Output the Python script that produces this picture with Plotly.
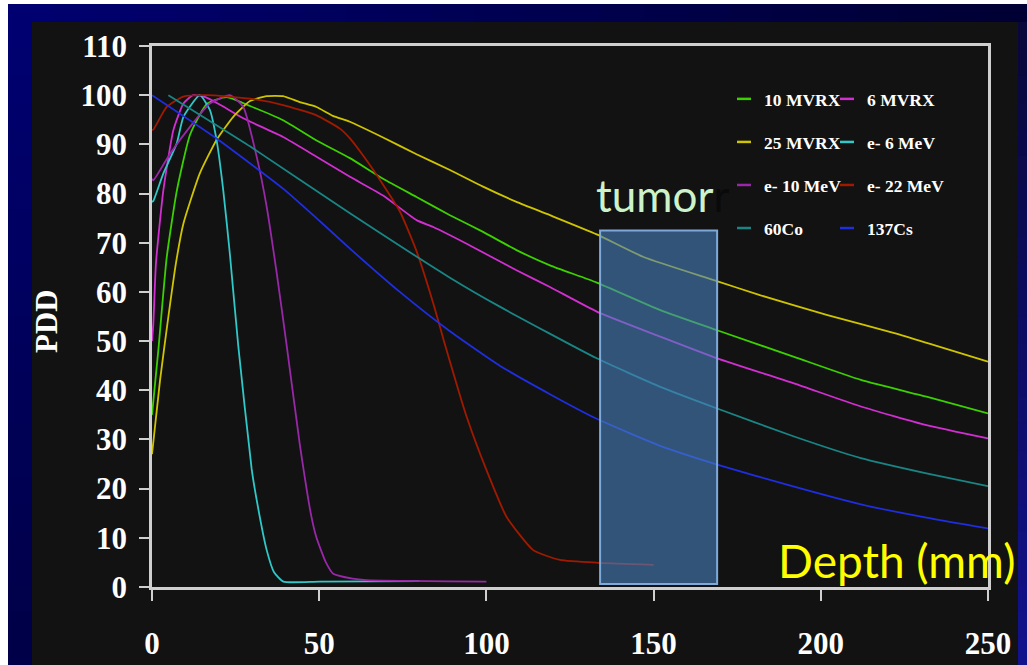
import plotly.graph_objects as go

# ---------------- data ----------------
series_names = ["10 MVRX", "6 MVRX", "25 MVRX", "e- 6 MeV",
                "e- 10 MeV", "e- 22 MeV", "60Co", "137Cs"]

mv10_depth = [0, 1.9, 4.4, 7.4, 11.4, 16.4, 22.3, 29.3, 39.2, 49.2, 59.2, 69.1, 79.1,
              89.1, 99, 109, 119, 133, 152, 169, 192, 212, 231.6, 250]
mv10_pdd = [35, 48.2, 67, 80.5, 92, 98.2, 99.6, 97.8, 94.9, 90.8, 87.2, 83, 79.3,
            75.6, 72.2, 68.5, 65.4, 61.9, 56.3, 52.2, 46.8, 42.1, 38.7, 35.3]

mv6_depth = [0, 0.4, 1.2, 3.4, 6.4, 9.4, 12.3, 16, 20, 27.3, 39.2, 49.2, 59.2, 69.1,
             79.1, 84.1, 94.1, 109, 119, 133, 152, 169, 192, 212, 231.6, 250]
mv6_pdd = [50, 53.6, 66, 80.7, 92.9, 98.3, 100, 99.6, 98.2, 95.3, 91.5, 87.5, 83.4, 79.6,
           74.6, 73.2, 69.8, 64.4, 61, 56, 50.9, 46.5, 41.4, 36.7, 32.9, 30.2]

mv25_depth = [0, 2.4, 4.9, 7.2, 9.4, 14.3, 19.3, 24.3, 29.3, 34.3, 39.2, 44.2, 49.2,
              54.1, 59.2, 69.1, 79.1, 89.1, 99, 109, 119, 133, 147, 168, 182, 202, 222, 250]
mv25_pdd = [27, 42, 55, 66, 73.9, 84.1, 90.9, 95.6, 98.8, 99.8, 99.8, 98.6, 97.6,
            95.8, 94.6, 91.4, 88, 84.8, 81.4, 78.3, 75.6, 71.7, 67.1, 62.4, 59.3, 55.3, 51.6, 45.8]

e6_depth = [0, 0.4, 3.4, 7.4, 9.4, 14.3, 17.3, 19.3, 21.3, 23.3, 25.8, 29.8, 31.3,
            34.3, 36.5, 39.3, 50, 80]
e6_pdd = [78.3, 78.5, 84.1, 90.2, 95.6, 100, 97, 90.9, 80.7, 67.6, 49, 24, 17.7,
          7.5, 3, 1.1, 1.1, 1.2]

e10_depth = [0, 0.4, 5.4, 11.4, 17.3, 23.3, 27.3, 31.3, 34.3, 37.3, 40.3, 44.2, 47.7,
             49.2, 52, 54.2, 60, 64.1, 100]
e10_pdd = [83, 82.7, 88.1, 93.6, 98.3, 100, 97.6, 87.5, 77.3, 63.8, 49, 29, 14.2,
           10, 5, 2.7, 1.7, 1.4, 1.1]

e22_depth = [0, 0.4, 4.4, 9.4, 16.3, 29.3, 39.2, 49.2, 56.2, 59.2, 64.1, 69.1, 74.1,
             79.1, 84.1, 87.1, 94.1, 100, 106, 114, 122, 134, 150]
e22_pdd = [92.9, 93, 97.6, 99.7, 100, 99.3, 98, 95.9, 93.2, 91.2, 86.8, 81.8, 76.4,
           68.3, 57.7, 50.5, 34.6, 23.8, 14.3, 7.5, 5.5, 4.9, 4.5]

co60_depth = [4.9, 29.3, 59.2, 89.1, 104, 133, 152, 169, 192, 212, 231.6, 250]
co60_pdd = [100, 89.6, 76, 62.9, 57, 46.5, 40.7, 36.3, 30.6, 26.2, 23.1, 20.5]

cs137_depth = [0, 19.3, 39.2, 49.2, 59.2, 74.1, 89.1, 104, 119, 133, 152, 169, 192, 212, 231.6, 250]
cs137_pdd = [100, 91.2, 81, 75, 68.8, 60, 52, 45, 39.2, 34.2, 28.7, 24.9, 20.4, 16.8, 14.1, 11.9]

x_ticks = [0, 50, 100, 150, 200, 250]
y_ticks = [0, 10, 20, 30, 40, 50, 60, 70, 80, 90, 100, 110]

tumor_depth = [134, 169]
tumor_pdd = [0.6, 72.5]

# ---------------- styling ----------------
depths = [mv10_depth, mv6_depth, mv25_depth, e6_depth, e10_depth, e22_depth, co60_depth, cs137_depth]
pdds = [mv10_pdd, mv6_pdd, mv25_pdd, e6_pdd, e10_pdd, e22_pdd, co60_pdd, cs137_pdd]
colors = ["#3cd000", "#d22ed2", "#cfc400", "#30c8c8", "#9828a8", "#a01a00", "#1a8585", "#1e2ee0"]
legend_ids = ["legend", "legend2", "legend", "legend2", "legend", "legend2", "legend", "legend2"]

W, H = 1027, 665
ML, MR, MT, MB = 152, 39, 46, 78
PW, PH = W - ML - MR, H - MT - MB


def pxx(px):
    return (px - ML) / PW


def pxy(py):
    return (H - MB - py) / PH


fig = go.Figure()

for name, xs, ys, c, lg in zip(series_names, depths, pdds, colors, legend_ids):
    fig.add_trace(go.Scatter(x=xs, y=ys, mode="lines", name=name, legendgroup=name,
                             showlegend=False,
                             line=dict(color=c, width=1.8, shape="spline", smoothing=0.5)))
    fig.add_trace(go.Scatter(x=[None], y=[None], mode="markers", name=name, legendgroup=name,
                             legend=lg, showlegend=True,
                             marker=dict(symbol="line-ew", size=10,
                                         line=dict(color=c, width=2.5))))

shapes = []
# slide background (blue frame with gradient, white edge)
shapes.append(dict(type="rect", xref="paper", yref="paper", layer="below",
                   x0=pxx(8), x1=pxx(W), y0=pxy(4), y1=pxy(H),
                   fillcolor="#00005c", line=dict(width=0)))
N = 24
for i in range(N):
    t = i / (N - 1)
    b = int(112 - 60 * t)
    shapes.append(dict(type="rect", xref="paper", yref="paper", layer="below",
                       x0=pxx(8 + (W - 8) * i / N), x1=pxx(8 + (W - 8) * (i + 1) / N + 1),
                       y0=pxy(22), y1=pxy(4),
                       fillcolor="rgb(0,0,%d)" % b, line=dict(width=0)))
for i in range(N):
    t = i / (N - 1)
    y_top = 22 + (H - 22) * i / N
    y_bot = 22 + (H - 22) * (i + 1) / N + 1
    bl = int(112 - 40 * t)
    shapes.append(dict(type="rect", xref="paper", yref="paper", layer="below",
                       x0=pxx(8), x1=pxx(32), y0=pxy(y_bot), y1=pxy(y_top),
                       fillcolor="rgb(0,0,%d)" % bl, line=dict(width=0)))
    rv = int(8 + 10 * t)
    br = int(60 + 80 * t)
    shapes.append(dict(type="rect", xref="paper", yref="paper", layer="below",
                       x0=pxx(1018), x1=pxx(W), y0=pxy(y_bot), y1=pxy(y_top),
                       fillcolor="rgb(%d,%d,%d)" % (rv, rv, br), line=dict(width=0)))
# black chart panel
shapes.append(dict(type="rect", xref="paper", yref="paper", layer="below",
                   x0=pxx(32), x1=pxx(1018), y0=pxy(H), y1=pxy(22),
                   fillcolor="#121212", line=dict(width=0)))
# tumor region
shapes.append(dict(type="rect", xref="x", yref="y", layer="above",
                   x0=tumor_depth[0], x1=tumor_depth[1], y0=tumor_pdd[0], y1=tumor_pdd[1],
                   fillcolor="rgba(72,128,190,0.6)", line=dict(color="#7eaadb", width=2)))

tick_font = dict(family="Liberation Serif", size=31, color="white", weight="bold")
legend_font = dict(family="Liberation Serif", size=17.5, color="white", weight="bold")

fig.update_layout(
    width=W, height=H, autosize=False,
    margin=dict(l=ML, r=MR, t=MT, b=MB, pad=0),
    paper_bgcolor="white", plot_bgcolor="#121212",
    shapes=shapes,
    xaxis=dict(range=[0, 250], tickvals=x_ticks, showgrid=False, zeroline=False,
               automargin=False,
               showline=True, linecolor="#cfcfcf", linewidth=2.5, mirror=True,
               ticks="outside", ticklen=11, tickwidth=2, tickcolor="#cfcfcf",
               tickfont=tick_font, ticklabelstandoff=16),
    yaxis=dict(range=[0, 110], tickvals=y_ticks, showgrid=False, zeroline=False,
               automargin=False,
               showline=True, linecolor="#cfcfcf", linewidth=2.5, mirror=True,
               ticks="outside", ticklen=10, tickwidth=2, tickcolor="#cfcfcf",
               tickfont=tick_font, ticklabelstandoff=6),
    legend=dict(x=pxx(724), y=pxy(81), xanchor="left", yanchor="top",
                bgcolor="rgba(0,0,0,0)", tracegroupgap=17.3, itemwidth=30,
                font=legend_font),
    legend2=dict(x=pxx(827), y=pxy(81), xanchor="left", yanchor="top",
                 bgcolor="rgba(0,0,0,0)", tracegroupgap=17.3, itemwidth=30,
                 font=legend_font),
    annotations=[
        dict(text="PDD", xref="paper", yref="paper", x=pxx(46), y=pxy(321),
             xanchor="center", yanchor="middle", textangle=-90, showarrow=False,
             font=dict(family="Liberation Serif", size=31, color="white", weight="bold")),
        dict(text="tumor<span style='color:#0a0a0a'>r</span>", xref="paper", yref="paper",
             x=pxx(594), y=pxy(195), xanchor="left", yanchor="middle", showarrow=False,
             font=dict(family="Lato", size=44, color="#ccf2cc")),
        dict(text="Depth (mm)", xref="paper", yref="paper",
             x=pxx(776), y=pxy(560), xanchor="left", yanchor="middle", showarrow=False,
             font=dict(family="Lato", size=46, color="#ffff00")),
    ],
)

fig.write_html("out.html")
